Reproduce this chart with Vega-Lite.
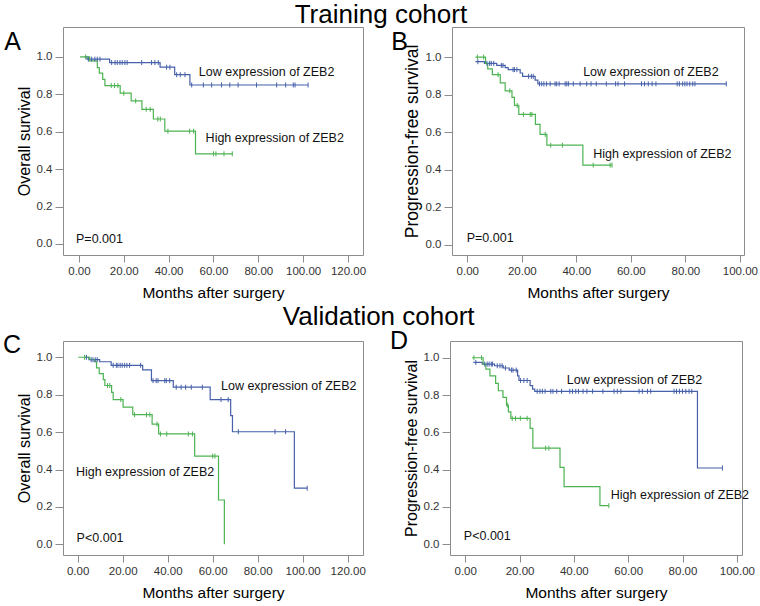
{
"$schema":"https://vega.github.io/schema/vega-lite/v6.json",
"background":"white",
"padding":{"left":2,"top":1,"right":0,"bottom":0},
"config":{
 "font":"Liberation Sans",
 "view":{"stroke":"#8c8c8c","strokeWidth":1},
 "axis":{"grid":false,"domain":false,"tickColor":"#8c8c8c","labelColor":"#333333","labelFontSize":11.5,"titleFontWeight":"normal","titleColor":"#000000","labelFlush":false,"labelOverlap":false},
 "axisX":{"tickSize":7,"labelPadding":3,"titlePadding":9,"titleFontSize":15.5},
 "axisY":{"tickSize":8,"labelPadding":3,"titlePadding":4,"titleFontSize":16}
},
"datasets":{
"km":[
{"p":"A","g":"Low","t":2.5,"s":1,"c":0},{"p":"A","g":"Low","t":3.6,"s":0.988,"c":0},
{"p":"A","g":"Low","t":4.2,"s":0.988,"c":1},{"p":"A","g":"Low","t":5.7,"s":0.988,"c":1},{"p":"A","g":"Low","t":7.1,"s":0.988,"c":1},{"p":"A","g":"Low","t":8.2,"s":0.988,"c":1},{"p":"A","g":"Low","t":9.4,"s":0.988,"c":1},
{"p":"A","g":"Low","t":13.7,"s":0.97,"c":0},
{"p":"A","g":"Low","t":14.6,"s":0.97,"c":1},{"p":"A","g":"Low","t":16.1,"s":0.97,"c":1},{"p":"A","g":"Low","t":17.1,"s":0.97,"c":1},{"p":"A","g":"Low","t":18.3,"s":0.97,"c":1},{"p":"A","g":"Low","t":19.3,"s":0.97,"c":1},{"p":"A","g":"Low","t":20.5,"s":0.97,"c":1},{"p":"A","g":"Low","t":21.5,"s":0.97,"c":1},{"p":"A","g":"Low","t":28,"s":0.97,"c":1},{"p":"A","g":"Low","t":32.4,"s":0.97,"c":1},{"p":"A","g":"Low","t":33.9,"s":0.97,"c":1},{"p":"A","g":"Low","t":35.4,"s":0.97,"c":1},
{"p":"A","g":"Low","t":36.2,"s":0.945,"c":0},
{"p":"A","g":"Low","t":39.1,"s":0.945,"c":1},{"p":"A","g":"Low","t":40.6,"s":0.945,"c":1},
{"p":"A","g":"Low","t":42.7,"s":0.905,"c":0},
{"p":"A","g":"Low","t":43.6,"s":0.905,"c":1},{"p":"A","g":"Low","t":45.2,"s":0.905,"c":1},{"p":"A","g":"Low","t":47.3,"s":0.905,"c":1},
{"p":"A","g":"Low","t":49.5,"s":0.85,"c":0},
{"p":"A","g":"Low","t":50.3,"s":0.85,"c":1},{"p":"A","g":"Low","t":55.5,"s":0.85,"c":1},{"p":"A","g":"Low","t":59.2,"s":0.85,"c":1},{"p":"A","g":"Low","t":63.6,"s":0.85,"c":1},{"p":"A","g":"Low","t":67.3,"s":0.85,"c":1},{"p":"A","g":"Low","t":71,"s":0.85,"c":1},{"p":"A","g":"Low","t":79.2,"s":0.85,"c":1},{"p":"A","g":"Low","t":88.2,"s":0.85,"c":1},{"p":"A","g":"Low","t":92.2,"s":0.85,"c":1},{"p":"A","g":"Low","t":95.6,"s":0.85,"c":1},{"p":"A","g":"Low","t":96.4,"s":0.85,"c":1},{"p":"A","g":"Low","t":102.2,"s":0.85,"c":1},
{"p":"A","g":"High","t":0.5,"s":1,"c":0},{"p":"A","g":"High","t":3.0,"s":1,"c":1},
{"p":"A","g":"High","t":4.8,"s":0.979,"c":0},{"p":"A","g":"High","t":8.2,"s":0.943,"c":0},{"p":"A","g":"High","t":9.1,"s":0.913,"c":0},{"p":"A","g":"High","t":10.6,"s":0.88,"c":0},{"p":"A","g":"High","t":11.6,"s":0.847,"c":0},
{"p":"A","g":"High","t":14.4,"s":0.847,"c":1},{"p":"A","g":"High","t":15.9,"s":0.847,"c":1},{"p":"A","g":"High","t":17.4,"s":0.847,"c":1},
{"p":"A","g":"High","t":18.4,"s":0.806,"c":0},{"p":"A","g":"High","t":20.0,"s":0.806,"c":1},
{"p":"A","g":"High","t":23.3,"s":0.765,"c":0},{"p":"A","g":"High","t":25.3,"s":0.765,"c":1},
{"p":"A","g":"High","t":28.1,"s":0.72,"c":0},{"p":"A","g":"High","t":30.0,"s":0.72,"c":1},{"p":"A","g":"High","t":31.8,"s":0.72,"c":1},
{"p":"A","g":"High","t":33.2,"s":0.668,"c":0},{"p":"A","g":"High","t":35.2,"s":0.668,"c":1},{"p":"A","g":"High","t":36.3,"s":0.668,"c":1},
{"p":"A","g":"High","t":38.3,"s":0.603,"c":0},{"p":"A","g":"High","t":39.7,"s":0.603,"c":1},{"p":"A","g":"High","t":49.4,"s":0.603,"c":1},{"p":"A","g":"High","t":51.2,"s":0.603,"c":1},
{"p":"A","g":"High","t":52.0,"s":0.482,"c":0},{"p":"A","g":"High","t":60.0,"s":0.482,"c":1},{"p":"A","g":"High","t":61.1,"s":0.482,"c":1},{"p":"A","g":"High","t":64.7,"s":0.482,"c":1},{"p":"A","g":"High","t":68.4,"s":0.482,"c":1},

{"p":"B","g":"Low","t":3.0,"s":0.975,"c":0},{"p":"B","g":"Low","t":3.9,"s":0.975,"c":1},
{"p":"B","g":"Low","t":6.3,"s":0.966,"c":0},{"p":"B","g":"Low","t":7.2,"s":0.966,"c":1},{"p":"B","g":"Low","t":8.2,"s":0.966,"c":1},{"p":"B","g":"Low","t":8.8,"s":0.966,"c":1},{"p":"B","g":"Low","t":9.7,"s":0.966,"c":1},
{"p":"B","g":"Low","t":10.8,"s":0.955,"c":0},{"p":"B","g":"Low","t":12.5,"s":0.955,"c":1},{"p":"B","g":"Low","t":13.1,"s":0.955,"c":1},
{"p":"B","g":"Low","t":13.9,"s":0.944,"c":0},
{"p":"B","g":"Low","t":15.0,"s":0.933,"c":0},{"p":"B","g":"Low","t":16.8,"s":0.933,"c":1},{"p":"B","g":"Low","t":17.3,"s":0.933,"c":1},{"p":"B","g":"Low","t":18.2,"s":0.933,"c":1},
{"p":"B","g":"Low","t":19.4,"s":0.915,"c":0},
{"p":"B","g":"Low","t":20.3,"s":0.897,"c":0},{"p":"B","g":"Low","t":22.5,"s":0.897,"c":1},{"p":"B","g":"Low","t":23.5,"s":0.897,"c":1},{"p":"B","g":"Low","t":24.2,"s":0.897,"c":1},
{"p":"B","g":"Low","t":24.9,"s":0.877,"c":0},
{"p":"B","g":"Low","t":25.9,"s":0.857,"c":0},
{"p":"B","g":"Low","t":26.5,"s":0.857,"c":1},{"p":"B","g":"Low","t":27.3,"s":0.857,"c":1},{"p":"B","g":"Low","t":28.1,"s":0.857,"c":1},{"p":"B","g":"Low","t":29.1,"s":0.857,"c":1},{"p":"B","g":"Low","t":30.4,"s":0.857,"c":1},{"p":"B","g":"Low","t":32.2,"s":0.857,"c":1},{"p":"B","g":"Low","t":32.8,"s":0.857,"c":1},{"p":"B","g":"Low","t":33.7,"s":0.857,"c":1},{"p":"B","g":"Low","t":35.9,"s":0.857,"c":1},{"p":"B","g":"Low","t":36.5,"s":0.857,"c":1},{"p":"B","g":"Low","t":37.1,"s":0.857,"c":1},{"p":"B","g":"Low","t":38.9,"s":0.857,"c":1},{"p":"B","g":"Low","t":41.4,"s":0.857,"c":1},{"p":"B","g":"Low","t":43.8,"s":0.857,"c":1},{"p":"B","g":"Low","t":45.4,"s":0.857,"c":1},{"p":"B","g":"Low","t":47.3,"s":0.857,"c":1},{"p":"B","g":"Low","t":51.0,"s":0.857,"c":1},{"p":"B","g":"Low","t":54.4,"s":0.857,"c":1},{"p":"B","g":"Low","t":55.3,"s":0.857,"c":1},{"p":"B","g":"Low","t":57.7,"s":0.857,"c":1},{"p":"B","g":"Low","t":63.9,"s":0.857,"c":1},{"p":"B","g":"Low","t":65.0,"s":0.857,"c":1},{"p":"B","g":"Low","t":66.4,"s":0.857,"c":1},{"p":"B","g":"Low","t":67.8,"s":0.857,"c":1},{"p":"B","g":"Low","t":69.2,"s":0.857,"c":1},{"p":"B","g":"Low","t":77.0,"s":0.857,"c":1},{"p":"B","g":"Low","t":77.8,"s":0.857,"c":1},{"p":"B","g":"Low","t":79.0,"s":0.857,"c":1},{"p":"B","g":"Low","t":79.8,"s":0.857,"c":1},{"p":"B","g":"Low","t":80.6,"s":0.857,"c":1},{"p":"B","g":"Low","t":81.6,"s":0.857,"c":1},{"p":"B","g":"Low","t":82.7,"s":0.857,"c":1},{"p":"B","g":"Low","t":83.5,"s":0.857,"c":1},{"p":"B","g":"Low","t":95.0,"s":0.857,"c":1},
{"p":"B","g":"High","t":3.0,"s":1,"c":0},{"p":"B","g":"High","t":3.7,"s":1,"c":1},{"p":"B","g":"High","t":6.0,"s":1,"c":1},
{"p":"B","g":"High","t":6.7,"s":0.966,"c":0},{"p":"B","g":"High","t":7.5,"s":0.937,"c":0},{"p":"B","g":"High","t":9.2,"s":0.906,"c":0},{"p":"B","g":"High","t":11.3,"s":0.906,"c":1},
{"p":"B","g":"High","t":12.1,"s":0.862,"c":0},{"p":"B","g":"High","t":13.9,"s":0.82,"c":0},{"p":"B","g":"High","t":15.6,"s":0.82,"c":1},
{"p":"B","g":"High","t":16.4,"s":0.785,"c":0},{"p":"B","g":"High","t":17.3,"s":0.742,"c":0},{"p":"B","g":"High","t":18.3,"s":0.742,"c":1},
{"p":"B","g":"High","t":18.9,"s":0.694,"c":0},{"p":"B","g":"High","t":20.6,"s":0.694,"c":1},{"p":"B","g":"High","t":23.1,"s":0.694,"c":1},{"p":"B","g":"High","t":23.7,"s":0.694,"c":1},
{"p":"B","g":"High","t":25.0,"s":0.641,"c":0},{"p":"B","g":"High","t":26.7,"s":0.588,"c":0},{"p":"B","g":"High","t":28.6,"s":0.588,"c":1},
{"p":"B","g":"High","t":29.2,"s":0.53,"c":0},{"p":"B","g":"High","t":30.6,"s":0.53,"c":1},{"p":"B","g":"High","t":34.9,"s":0.53,"c":1},
{"p":"B","g":"High","t":42.4,"s":0.424,"c":0},{"p":"B","g":"High","t":46.2,"s":0.424,"c":1},{"p":"B","g":"High","t":52.4,"s":0.424,"c":1},{"p":"B","g":"High","t":53.1,"s":0.424,"c":1},

{"p":"C","g":"Low","t":3.3,"s":1,"c":0},{"p":"C","g":"Low","t":3.9,"s":1,"c":1},
{"p":"C","g":"Low","t":5.0,"s":0.987,"c":0},{"p":"C","g":"Low","t":6.0,"s":0.987,"c":1},{"p":"C","g":"Low","t":6.8,"s":0.987,"c":1},{"p":"C","g":"Low","t":7.8,"s":0.987,"c":1},{"p":"C","g":"Low","t":8.7,"s":0.987,"c":1},
{"p":"C","g":"Low","t":9.8,"s":0.976,"c":0},
{"p":"C","g":"Low","t":14.9,"s":0.957,"c":0},{"p":"C","g":"Low","t":15.8,"s":0.957,"c":1},{"p":"C","g":"Low","t":17.2,"s":0.957,"c":1},{"p":"C","g":"Low","t":17.9,"s":0.957,"c":1},{"p":"C","g":"Low","t":18.9,"s":0.957,"c":1},{"p":"C","g":"Low","t":19.8,"s":0.957,"c":1},{"p":"C","g":"Low","t":20.9,"s":0.957,"c":1},{"p":"C","g":"Low","t":21.9,"s":0.957,"c":1},{"p":"C","g":"Low","t":23.1,"s":0.957,"c":1},{"p":"C","g":"Low","t":28.0,"s":0.957,"c":1},
{"p":"C","g":"Low","t":28.9,"s":0.933,"c":0},
{"p":"C","g":"Low","t":32.8,"s":0.875,"c":0},{"p":"C","g":"Low","t":33.5,"s":0.875,"c":1},{"p":"C","g":"Low","t":34.9,"s":0.875,"c":1},{"p":"C","g":"Low","t":35.7,"s":0.875,"c":1},{"p":"C","g":"Low","t":38.7,"s":0.875,"c":1},{"p":"C","g":"Low","t":39.4,"s":0.875,"c":1},{"p":"C","g":"Low","t":40.9,"s":0.875,"c":1},
{"p":"C","g":"Low","t":42.5,"s":0.84,"c":0},{"p":"C","g":"Low","t":43.8,"s":0.84,"c":1},{"p":"C","g":"Low","t":46.0,"s":0.84,"c":1},{"p":"C","g":"Low","t":48.0,"s":0.84,"c":1},{"p":"C","g":"Low","t":50.5,"s":0.84,"c":1},{"p":"C","g":"Low","t":55.4,"s":0.84,"c":1},
{"p":"C","g":"Low","t":58.9,"s":0.774,"c":0},{"p":"C","g":"Low","t":63.7,"s":0.774,"c":1},{"p":"C","g":"Low","t":66.9,"s":0.774,"c":1},
{"p":"C","g":"Low","t":68.0,"s":0.688,"c":0},{"p":"C","g":"Low","t":68.8,"s":0.602,"c":0},{"p":"C","g":"Low","t":71.4,"s":0.602,"c":1},{"p":"C","g":"Low","t":87.7,"s":0.602,"c":1},{"p":"C","g":"Low","t":92.4,"s":0.602,"c":1},
{"p":"C","g":"Low","t":96.3,"s":0.30,"c":0},{"p":"C","g":"Low","t":102.0,"s":0.30,"c":1},
{"p":"C","g":"High","t":0.3,"s":1,"c":0},{"p":"C","g":"High","t":3.1,"s":1,"c":1},
{"p":"C","g":"High","t":5.3,"s":0.988,"c":0},{"p":"C","g":"High","t":7.5,"s":0.976,"c":0},{"p":"C","g":"High","t":8.4,"s":0.943,"c":0},{"p":"C","g":"High","t":9.6,"s":0.913,"c":0},{"p":"C","g":"High","t":11.4,"s":0.881,"c":0},{"p":"C","g":"High","t":12.1,"s":0.849,"c":0},
{"p":"C","g":"High","t":13.3,"s":0.849,"c":1},{"p":"C","g":"High","t":14.3,"s":0.849,"c":1},
{"p":"C","g":"High","t":15.1,"s":0.812,"c":0},{"p":"C","g":"High","t":15.8,"s":0.774,"c":0},{"p":"C","g":"High","t":19.2,"s":0.774,"c":1},
{"p":"C","g":"High","t":20.2,"s":0.733,"c":0},
{"p":"C","g":"High","t":24.5,"s":0.693,"c":0},{"p":"C","g":"High","t":25.3,"s":0.693,"c":1},{"p":"C","g":"High","t":30.6,"s":0.693,"c":1},{"p":"C","g":"High","t":32.1,"s":0.693,"c":1},
{"p":"C","g":"High","t":33.1,"s":0.643,"c":0},{"p":"C","g":"High","t":35.3,"s":0.643,"c":1},
{"p":"C","g":"High","t":36.0,"s":0.59,"c":0},{"p":"C","g":"High","t":36.8,"s":0.59,"c":1},{"p":"C","g":"High","t":39.6,"s":0.59,"c":1},{"p":"C","g":"High","t":49.2,"s":0.59,"c":1},{"p":"C","g":"High","t":51.0,"s":0.59,"c":1},
{"p":"C","g":"High","t":52.0,"s":0.472,"c":0},{"p":"C","g":"High","t":60.0,"s":0.472,"c":1},{"p":"C","g":"High","t":61.0,"s":0.472,"c":1},
{"p":"C","g":"High","t":62.6,"s":0.237,"c":0},{"p":"C","g":"High","t":65.2,"s":0,"c":0},

{"p":"D","g":"Low","t":3.0,"s":0.975,"c":0},{"p":"D","g":"Low","t":3.9,"s":0.975,"c":1},
{"p":"D","g":"Low","t":6.3,"s":0.966,"c":0},{"p":"D","g":"Low","t":7.2,"s":0.966,"c":1},{"p":"D","g":"Low","t":8.1,"s":0.966,"c":1},{"p":"D","g":"Low","t":8.8,"s":0.966,"c":1},{"p":"D","g":"Low","t":9.6,"s":0.966,"c":1},{"p":"D","g":"Low","t":10.0,"s":0.966,"c":1},
{"p":"D","g":"Low","t":10.8,"s":0.957,"c":0},{"p":"D","g":"Low","t":11.8,"s":0.957,"c":1},{"p":"D","g":"Low","t":12.8,"s":0.957,"c":1},{"p":"D","g":"Low","t":13.6,"s":0.957,"c":1},
{"p":"D","g":"Low","t":14.0,"s":0.945,"c":0},{"p":"D","g":"Low","t":14.8,"s":0.945,"c":1},
{"p":"D","g":"Low","t":16.2,"s":0.934,"c":0},{"p":"D","g":"Low","t":17.0,"s":0.934,"c":1},{"p":"D","g":"Low","t":17.6,"s":0.934,"c":1},{"p":"D","g":"Low","t":18.8,"s":0.934,"c":1},
{"p":"D","g":"Low","t":19.3,"s":0.903,"c":0},{"p":"D","g":"Low","t":19.8,"s":0.878,"c":0},{"p":"D","g":"Low","t":20.4,"s":0.878,"c":1},{"p":"D","g":"Low","t":21.6,"s":0.878,"c":1},{"p":"D","g":"Low","t":22.8,"s":0.878,"c":1},
{"p":"D","g":"Low","t":23.9,"s":0.85,"c":0},{"p":"D","g":"Low","t":24.8,"s":0.832,"c":0},{"p":"D","g":"Low","t":25.6,"s":0.82,"c":0},
{"p":"D","g":"Low","t":26.5,"s":0.82,"c":1},{"p":"D","g":"Low","t":27.5,"s":0.82,"c":1},{"p":"D","g":"Low","t":28.4,"s":0.82,"c":1},{"p":"D","g":"Low","t":29.4,"s":0.82,"c":1},{"p":"D","g":"Low","t":31.5,"s":0.82,"c":1},{"p":"D","g":"Low","t":32.3,"s":0.82,"c":1},{"p":"D","g":"Low","t":33.7,"s":0.82,"c":1},{"p":"D","g":"Low","t":35.5,"s":0.82,"c":1},{"p":"D","g":"Low","t":38.5,"s":0.82,"c":1},{"p":"D","g":"Low","t":39.5,"s":0.82,"c":1},{"p":"D","g":"Low","t":40.7,"s":0.82,"c":1},{"p":"D","g":"Low","t":41.7,"s":0.82,"c":1},{"p":"D","g":"Low","t":43.4,"s":0.82,"c":1},{"p":"D","g":"Low","t":44.8,"s":0.82,"c":1},{"p":"D","g":"Low","t":46.9,"s":0.82,"c":1},{"p":"D","g":"Low","t":50.7,"s":0.82,"c":1},{"p":"D","g":"Low","t":54.8,"s":0.82,"c":1},{"p":"D","g":"Low","t":56.0,"s":0.82,"c":1},{"p":"D","g":"Low","t":57.3,"s":0.82,"c":1},{"p":"D","g":"Low","t":64.0,"s":0.82,"c":1},{"p":"D","g":"Low","t":65.2,"s":0.82,"c":1},{"p":"D","g":"Low","t":67.1,"s":0.82,"c":1},{"p":"D","g":"Low","t":68.3,"s":0.82,"c":1},{"p":"D","g":"Low","t":76.9,"s":0.82,"c":1},{"p":"D","g":"Low","t":77.8,"s":0.82,"c":1},{"p":"D","g":"Low","t":78.9,"s":0.82,"c":1},{"p":"D","g":"Low","t":80.0,"s":0.82,"c":1},{"p":"D","g":"Low","t":81.2,"s":0.82,"c":1},{"p":"D","g":"Low","t":82.4,"s":0.82,"c":1},{"p":"D","g":"Low","t":83.4,"s":0.82,"c":1},
{"p":"D","g":"Low","t":85.5,"s":0.408,"c":0},{"p":"D","g":"Low","t":94.7,"s":0.408,"c":1},
{"p":"D","g":"High","t":2.5,"s":1,"c":0},{"p":"D","g":"High","t":3.2,"s":1,"c":1},{"p":"D","g":"High","t":6.0,"s":1,"c":1},
{"p":"D","g":"High","t":6.6,"s":0.966,"c":0},{"p":"D","g":"High","t":7.6,"s":0.939,"c":0},{"p":"D","g":"High","t":9.1,"s":0.903,"c":0},{"p":"D","g":"High","t":11.2,"s":0.862,"c":0},{"p":"D","g":"High","t":12.2,"s":0.823,"c":0},{"p":"D","g":"High","t":13.9,"s":0.787,"c":0},{"p":"D","g":"High","t":15.2,"s":0.746,"c":0},{"p":"D","g":"High","t":15.5,"s":0.746,"c":1},
{"p":"D","g":"High","t":15.9,"s":0.71,"c":0},{"p":"D","g":"High","t":16.8,"s":0.675,"c":0},{"p":"D","g":"High","t":17.3,"s":0.675,"c":1},{"p":"D","g":"High","t":18.5,"s":0.675,"c":1},{"p":"D","g":"High","t":20.3,"s":0.675,"c":1},{"p":"D","g":"High","t":22.8,"s":0.675,"c":1},
{"p":"D","g":"High","t":23.9,"s":0.621,"c":0},{"p":"D","g":"High","t":24.9,"s":0.515,"c":0},{"p":"D","g":"High","t":29.6,"s":0.515,"c":1},{"p":"D","g":"High","t":30.8,"s":0.515,"c":1},
{"p":"D","g":"High","t":34.9,"s":0.412,"c":0},{"p":"D","g":"High","t":36.4,"s":0.308,"c":0},{"p":"D","g":"High","t":49.6,"s":0.206,"c":0},{"p":"D","g":"High","t":52.9,"s":0.206,"c":1}
],
"txt":[
{"p":"A","t":53.5,"s":0.92,"label":"Low expression of ZEB2"},{"p":"A","t":56.5,"s":0.565,"label":"High expression of ZEB2"},{"p":"A","t":-1.3,"s":0.027,"label":"P=0.001"},
{"p":"B","t":42.5,"s":0.921,"label":"Low expression of ZEB2"},{"p":"B","t":46.2,"s":0.485,"label":"High expression of ZEB2"},{"p":"B","t":-0.2,"s":0.036,"label":"P=0.001"},
{"p":"C","t":63.7,"s":0.845,"label":"Low expression of ZEB2"},{"p":"C","t":-0.75,"s":0.385,"label":"High expression of ZEB2"},{"p":"C","t":-0.45,"s":0.034,"label":"P<0.001"},
{"p":"D","t":37.4,"s":0.88,"label":"Low expression of ZEB2"},{"p":"D","t":53.6,"s":0.263,"label":"High expression of ZEB2"},{"p":"D","t":-0.5,"s":0.041,"label":"P<0.001"}
]
},
"vconcat":[
{"title":{"text":"Training cohort","fontSize":26,"fontWeight":"normal","anchor":"middle","frame":"bounds","offset":-22,"baseline":"alphabetic","color":"#000000"},
 "spacing":23,
 "hconcat":[
 {"width":300,"height":228,
  "title":{"text":"A","orient":"left","angle":0,"anchor":"end","frame":"group","baseline":"top","align":"left","dy":3,"offset":-5,"fontSize":25,"fontWeight":"normal","color":"#000000"},
  "encoding":{
   "x":{"field":"t","type":"quantitative","scale":{"domain":[-7.1,126.7],"nice":false,"zero":false},"axis":{"values":[0,20,40,60,80,100,120],"format":".2f","title":"Months after surgery"}},
   "y":{"field":"s","type":"quantitative","scale":{"domain":[-0.059,1.16],"nice":false,"zero":false},"axis":{"values":[0,0.2,0.4,0.6,0.8,1],"format":".1f","title":"Overall survival"}}},
  "layer":[
   {"data":{"name":"km"},"transform":[{"filter":"datum.p==='A'"}],"mark":{"type":"line","interpolate":"step-after","strokeWidth":1.2},"encoding":{"color":{"field":"g","type":"nominal","scale":{"domain":["Low","High"],"range":["#4660aa","#4db352"]},"legend":null}}},
   {"data":{"name":"km"},"transform":[{"filter":"datum.p==='A' && datum.c===1"}],"mark":{"type":"point","shape":"M0,-1L0,1","size":25,"strokeWidth":1,"filled":false,"opacity":1},"encoding":{"color":{"field":"g","type":"nominal","legend":null}}},
   {"data":{"name":"txt"},"transform":[{"filter":"datum.p==='A'"}],"mark":{"type":"text","align":"left","baseline":"middle","fontSize":12.5,"color":"#111111"},"encoding":{"text":{"field":"label"}}}
  ]},
 {"width":292,"height":228,
  "title":{"text":"B","orient":"left","angle":0,"anchor":"end","frame":"group","baseline":"top","align":"left","dy":3,"offset":-5,"fontSize":25,"fontWeight":"normal","color":"#000000"},
  "encoding":{
   "x":{"field":"t","type":"quantitative","scale":{"domain":[-5.6,101.5],"nice":false,"zero":false},"axis":{"values":[0,20,40,60,80,100],"format":".2f","title":"Months after surgery"}},
   "y":{"field":"s","type":"quantitative","scale":{"domain":[-0.055,1.16],"nice":false,"zero":false},"axis":{"values":[0,0.2,0.4,0.6,0.8,1],"format":".1f","title":"Progression-free survival","titleFontSize":17.5}}},
  "layer":[
   {"data":{"name":"km"},"transform":[{"filter":"datum.p==='B'"}],"mark":{"type":"line","interpolate":"step-after","strokeWidth":1.2},"encoding":{"color":{"field":"g","type":"nominal","scale":{"domain":["Low","High"],"range":["#4660aa","#4db352"]},"legend":null}}},
   {"data":{"name":"km"},"transform":[{"filter":"datum.p==='B' && datum.c===1"}],"mark":{"type":"point","shape":"M0,-1L0,1","size":25,"strokeWidth":1,"filled":false,"opacity":1},"encoding":{"color":{"field":"g","type":"nominal","legend":null}}},
   {"data":{"name":"txt"},"transform":[{"filter":"datum.p==='B'"}],"mark":{"type":"text","align":"left","baseline":"middle","fontSize":12.5,"color":"#111111"},"encoding":{"text":{"field":"label"}}}
  ]}
 ]},
{"title":{"text":"Validation cohort","fontSize":26,"fontWeight":"normal","anchor":"middle","frame":"bounds","offset":-22,"baseline":"alphabetic","color":"#000000"},
 "spacing":23,
 "hconcat":[
 {"width":300,"height":214,
  "title":{"text":"C","orient":"left","angle":0,"anchor":"end","frame":"group","baseline":"top","align":"left","dy":-8,"offset":-5,"fontSize":25,"fontWeight":"normal","color":"#000000"},
  "encoding":{
   "x":{"field":"t","type":"quantitative","scale":{"domain":[-6.5,126.8],"nice":false,"zero":false},"axis":{"values":[0,20,40,60,80,100,120],"format":".2f","title":"Months after surgery"}},
   "y":{"field":"s","type":"quantitative","scale":{"domain":[-0.057,1.087],"nice":false,"zero":false},"axis":{"values":[0,0.2,0.4,0.6,0.8,1],"format":".1f","title":"Overall survival"}}},
  "layer":[
   {"data":{"name":"km"},"transform":[{"filter":"datum.p==='C'"}],"mark":{"type":"line","interpolate":"step-after","strokeWidth":1.2},"encoding":{"color":{"field":"g","type":"nominal","scale":{"domain":["Low","High"],"range":["#4660aa","#4db352"]},"legend":null}}},
   {"data":{"name":"km"},"transform":[{"filter":"datum.p==='C' && datum.c===1"}],"mark":{"type":"point","shape":"M0,-1L0,1","size":25,"strokeWidth":1,"filled":false,"opacity":1},"encoding":{"color":{"field":"g","type":"nominal","legend":null}}},
   {"data":{"name":"txt"},"transform":[{"filter":"datum.p==='C'"}],"mark":{"type":"text","align":"left","baseline":"middle","fontSize":12.5,"color":"#111111"},"encoding":{"text":{"field":"label"}}}
  ]},
 {"width":292,"height":214,
  "title":{"text":"D","orient":"left","angle":0,"anchor":"end","frame":"group","baseline":"top","align":"left","dy":-12,"offset":-5,"fontSize":25,"fontWeight":"normal","color":"#000000"},
  "encoding":{
   "x":{"field":"t","type":"quantitative","scale":{"domain":[-5.6,101.9],"nice":false,"zero":false},"axis":{"values":[0,20,40,60,80,100],"format":".2f","title":"Months after surgery"}},
   "y":{"field":"s","type":"quantitative","scale":{"domain":[-0.059,1.09],"nice":false,"zero":false},"axis":{"values":[0,0.2,0.4,0.6,0.8,1],"format":".1f","title":"Progression-free survival"}}},
  "layer":[
   {"data":{"name":"km"},"transform":[{"filter":"datum.p==='D'"}],"mark":{"type":"line","interpolate":"step-after","strokeWidth":1.2},"encoding":{"color":{"field":"g","type":"nominal","scale":{"domain":["Low","High"],"range":["#4660aa","#4db352"]},"legend":null}}},
   {"data":{"name":"km"},"transform":[{"filter":"datum.p==='D' && datum.c===1"}],"mark":{"type":"point","shape":"M0,-1L0,1","size":25,"strokeWidth":1,"filled":false,"opacity":1},"encoding":{"color":{"field":"g","type":"nominal","legend":null}}},
   {"data":{"name":"txt"},"transform":[{"filter":"datum.p==='D'"}],"mark":{"type":"text","align":"left","baseline":"middle","fontSize":12.5,"color":"#111111"},"encoding":{"text":{"field":"label"}}}
  ]}
 ]}
],
"spacing":1
}
